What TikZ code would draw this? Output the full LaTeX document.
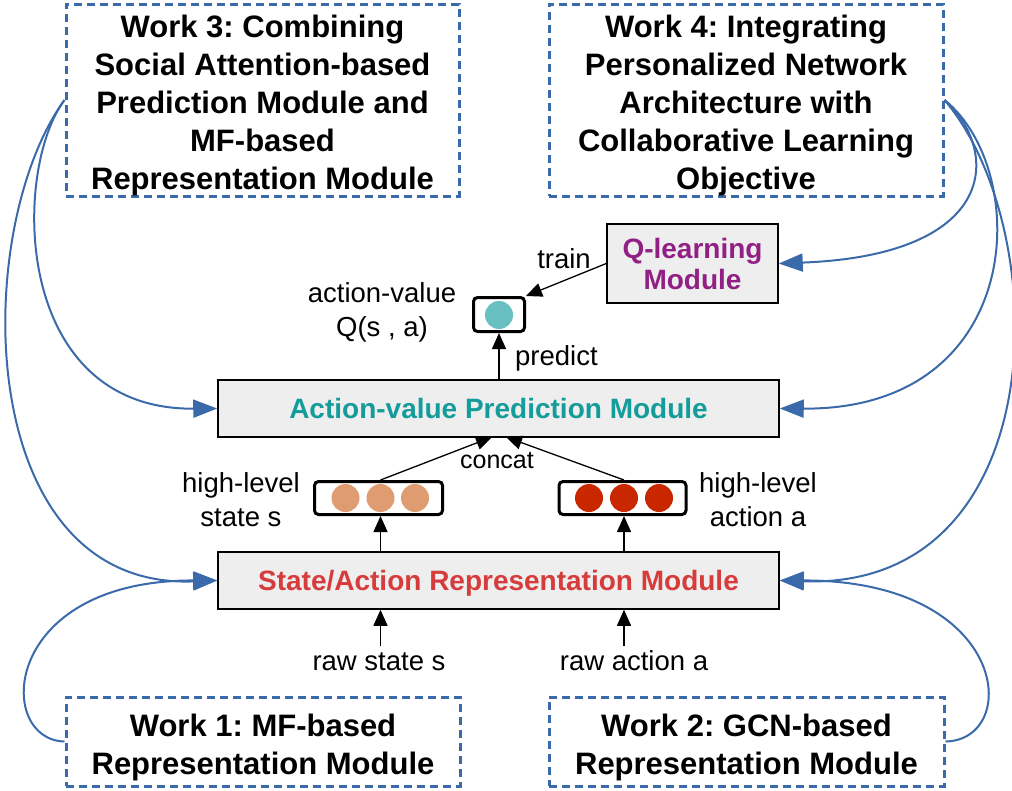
\documentclass[tikz,border=0pt]{standalone}
\usepackage{fontspec}
\setmainfont{Liberation Sans}
\frenchspacing
\usetikzlibrary{arrows.meta}

\definecolor{linkblue}{HTML}{3A6AAA}
\definecolor{boxgray}{HTML}{EEEEEE}
\definecolor{tealtext}{HTML}{149C9A}
\definecolor{redtext}{HTML}{D63C3C}
\definecolor{purpletext}{HTML}{921F84}
\definecolor{stateDot}{HTML}{DE9C70}
\definecolor{actionDot}{HTML}{C82700}
\definecolor{qDot}{HTML}{68C0C2}

\begin{document}
\begin{tikzpicture}[x=1pt,y=-1pt,
  workbox/.style={draw=linkblue, line width=3pt, dash pattern=on 8pt off 5pt,
    inner sep=0pt},
  worktext/.style={font=\bfseries\fontsize{31}{38}\selectfont, align=center,
    inner sep=0pt},
  module/.style={draw=black, line width=1.5pt, fill=boxgray, inner sep=0pt,
    font=\bfseries\fontsize{28}{31}\selectfont, align=center},
  vecbox/.style={draw=black, line width=3pt, rounded corners=4pt, inner sep=0pt,
    fill=white},
  dot/.style={circle, inner sep=0pt, minimum size=28pt},
  lbl/.style={font=\fontsize{27.5}{34}\selectfont, align=center, inner sep=0pt},
  blk/.style={draw=black, line width=1.3pt, -{Triangle[length=16pt,width=14pt]}},
  link/.style={draw=linkblue, line width=2pt, -{Triangle[length=24pt,width=18pt]}}
]
\useasboundingbox (0,0) rectangle (1012,790);

% research work boxes
\node[workbox, minimum width=393pt, minimum height=192pt] (w3) at (262.5,100) {};
\node[worktext] (w3t) at (262.5,105) {Work 3: Combining\\Social Attention-based\\Prediction Module and\\MF-based\\Representation Module};
\node[workbox, minimum width=394pt, minimum height=192pt] (w4) at (746,100) {};
\node[worktext] (w4t) at (746,105) {Work 4: Integrating\\Personalized Network\\Architecture with\\Collaborative Learning\\Objective};
\node[workbox, minimum width=394pt, minimum height=89pt] (w1) at (263,741.5) {};
\node[worktext] (w1t) at (263,747) {Work 1: MF-based\\Representation Module};
\node[workbox, minimum width=395pt, minimum height=89pt] (w2) at (746.5,741.5) {};
\node[worktext] (w2t) at (746.5,747) {Work 2: GCN-based\\Representation Module};

% framework modules
\node[module, minimum width=171pt, minimum height=79pt, text=purpletext] (ql) at (692.5,263.5) {Q-learning\\Module};
\node[module, minimum width=561pt, minimum height=57pt, text=tealtext,
  text height=20pt, text depth=0pt] (avp) at (498.5,408.5) {Action-value Prediction Module};
\node[module, minimum width=561pt, minimum height=57pt, text=redtext,
  text height=20pt, text depth=0pt] (sar) at (498.5,580.5) {State/Action Representation Module};

% vector boxes
\node[vecbox, minimum width=51pt, minimum height=34pt] (qv) at (499,314.5) {};
\node[dot, fill=qDot] (qv1) at (499,315) {};
\node[vecbox, minimum width=128pt, minimum height=33pt] (hs) at (378.5,498) {};
\node[dot, fill=stateDot] (hs1) at (345.5,498) {};
\node[dot, fill=stateDot] (hs2) at (380.5,498) {};
\node[dot, fill=stateDot] (hs3) at (415,498) {};
\node[vecbox, minimum width=127pt, minimum height=33pt] (ha) at (622.5,498) {};
\node[dot, fill=actionDot] (ha1) at (589,498) {};
\node[dot, fill=actionDot] (ha2) at (624,498) {};
\node[dot, fill=actionDot] (ha3) at (659,498) {};

% labels
\node[lbl] (lqv) at (382,312) {action-value\\Q(s , a)};
\node[lbl] (lhs) at (241,499.5) {high-level\\state s};
\node[lbl] (lha) at (758,499.5) {high-level\\action a};
\node[lbl, anchor=base, font=\fontsize{25}{30}\selectfont] (lcat) at (497,468) {concat};
\node[lbl, anchor=base west] (lpred) at (515,365) {predict};
\node[lbl, anchor=base] (ltrain) at (564,268) {train};
\node[lbl, anchor=base] (lrs) at (379,670) {raw state s};
\node[lbl, anchor=base] (lra) at (634,670) {raw action a};

% data flow
\coordinate (rsIn) at (380.5,646);
\coordinate (raIn) at (624,646);
\coordinate (catS) at (492,437);
\coordinate (catA) at (506,437);
\draw[blk] (rsIn) -- (rsIn |- sar.south);
\draw[blk] (raIn) -- (raIn |- sar.south);
\draw[blk] (sar.north -| rsIn) -- (hs.south -| rsIn);
\draw[blk] (sar.north -| raIn) -- (ha.south -| raIn);
\draw[blk] (hs.north -| hs2) -- (catS);
\draw[blk] (ha.north -| ha2) -- (catA);
\draw[blk] (avp.north -| qv.south) -- (qv.south);
\draw[blk] (ql.west) -- (qv.north east);

% links from each work to the modules it addresses
\draw[link] (w3.west) .. controls (12,170) and (12,410) .. (avp.west);
\draw[link] (w3.west) .. controls (-30,230) and (-28,590) .. (sar.west);
\draw[link] (w1.west) .. controls (-5,740) and (0,580) .. (sar.west);
\draw[link] (w4.east) .. controls (1000,150) and (1000,255) .. (ql.east);
\draw[link] (w4.east) .. controls (1032,170) and (1027,410) .. (avp.east);
\draw[link] (w4.east) .. controls (1055,230) and (1055,590) .. (sar.east);
\draw[link] (w2.east) .. controls (1022,740) and (1010,580) .. (sar.east);
\end{tikzpicture}
\end{document}
